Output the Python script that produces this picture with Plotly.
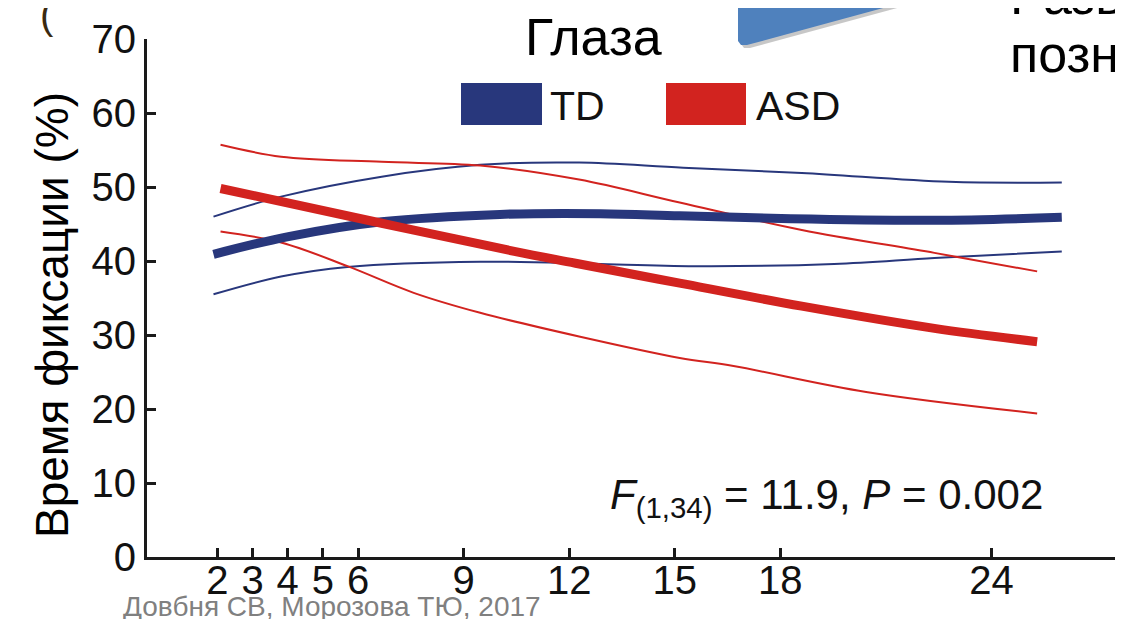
import plotly.graph_objects as go

# ---- data ----
xticks = [2, 3, 4, 5, 6, 9, 12, 15, 18, 24]
yticks = [0, 10, 20, 30, 40, 50, 60, 70]

td_mean_m = [1.89, 4.02, 6.67, 10.03, 12.89, 15.14, 18.30, 22.38, 26.0]
td_mean_v = [40.9, 43.3, 45.3, 46.3, 46.4, 46.1, 45.7, 45.5, 45.9]

td_up_m = [1.89, 3.81, 6.67, 9.47, 12.28, 15.24, 18.61, 22.79, 26.0]
td_up_v = [46.0, 48.7, 51.4, 53.0, 53.3, 52.6, 51.9, 50.7, 50.6]

td_lo_m = [1.89, 3.81, 5.70, 9.47, 12.89, 15.75, 19.53, 22.38, 26.0]
td_lo_v = [35.5, 37.9, 39.2, 39.9, 39.6, 39.3, 39.6, 40.4, 41.3]

asd_mean_m = [2.09, 6.67, 10.44, 12.18, 15.14, 18.61, 22.38, 25.3]
asd_mean_v = [49.8, 45.1, 41.3, 39.7, 37.0, 33.9, 30.9, 29.1]

asd_up_m = [2.09, 3.81, 6.67, 9.47, 12.28, 15.14, 18.61, 22.38, 25.3]
asd_up_v = [55.7, 54.1, 53.4, 52.9, 51.0, 47.9, 44.2, 41.1, 38.6]

asd_lo_m = [2.09, 3.81, 5.70, 7.58, 9.47, 12.28, 15.14, 16.67, 20.44, 25.3]
asd_lo_v = [44.0, 42.5, 39.3, 35.7, 33.0, 29.8, 26.9, 25.8, 22.3, 19.4]

NAVY = "#28377c"
RED = "#d2231f"
FONT = "Liberation Sans, Arial, sans-serif"

OFF = 8  # page body margin of the browser
W, H = 1123 - OFF, 619 - OFF
L, R, T, B = 139, 0, 31, 62
PW, PH = W - L - R, H - T - B


def px(xp):  # reference screen x -> paper
    return (xp - OFF - L) / PW


def py(yp):  # reference screen y -> paper
    return (H - B - (yp - OFF)) / PH


fig = go.Figure()


def add(m, v, color, width):
    fig.add_trace(go.Scatter(x=m, y=v, mode="lines",
                             line=dict(color=color, width=width, shape="spline", smoothing=1),
                             showlegend=False, hoverinfo="skip"))


add(td_up_m, td_up_v, NAVY, 2)
add(td_lo_m, td_lo_v, NAVY, 2)
add(asd_up_m, asd_up_v, RED, 2)
add(asd_lo_m, asd_lo_v, RED, 2)
add(td_mean_m, td_mean_v, NAVY, 9)
add(asd_mean_m, asd_mean_v, RED, 9)

# ---- shapes: legend swatches, blue arrow ----
shapes = []
for x0, x1, c in [(461, 542, NAVY), (666, 746, RED)]:
    shapes.append(dict(type="rect", xref="paper", yref="paper",
                       x0=px(x0), x1=px(x1), y0=py(125), y1=py(83),
                       fillcolor=c, line=dict(width=0), layer="above"))


def path(pts):
    return "M " + " L ".join(f"{px(a):.5f},{py(b):.5f}" for a, b in pts) + " Z"


arrow = [(738, 8), (738, 41), (741, 45), (747, 45), (931, -5), (786, -5)]
shadow = [(a + 3, b + 3) for a, b in arrow]
shapes.append(dict(type="path", xref="paper", yref="paper", path=path(shadow),
                   fillcolor="rgba(0,0,0,0.22)", line=dict(width=0), layer="above"))
shapes.append(dict(type="path", xref="paper", yref="paper", path=path(arrow),
                   fillcolor="#4f81bd", line=dict(width=0), layer="above"))

# ---- annotations ----
ann = []


def text(t, x, y, size, color="black", xa="left", angle=0):
    ann.append(dict(text=t, x=px(x), y=py(y), xref="paper", yref="paper",
                    xanchor=xa, yanchor="middle", textangle=angle, showarrow=False,
                    font=dict(family=FONT, size=size, color=color)))


text("Глаза", 593, 37, 52, xa="center")
text("TD", 548, 106, 41, "#111")
text("ASD", 754, 106, 41, "#111")
text("Время фиксации (%)", 52, 315, 46, xa="center", angle=-90)
text("<i>F</i><sub>(1,34)</sub> = 11.9, <i>P</i> = 0.002", 1045, 497, 42, "#111", xa="right")
text("Довбня СВ, Морозова ТЮ, 2017", 121, 606, 28, "#808080")
text("Развитие", 1008, -4, 52)
text("познавательных", 1008, 54, 52)
text("(", 47, 15, 40, "#3a2a10", xa="center")

fig.update_layout(
    width=W, height=H,
    margin=dict(l=L, r=R, t=T, b=B, pad=0),
    paper_bgcolor="white", plot_bgcolor="white",
    shapes=shapes, annotations=ann,
    xaxis=dict(range=[0, 27.74], tickvals=xticks, ticktext=[str(v) for v in xticks],
               showline=True, linewidth=3, linecolor="#1a1a1a",
               ticks="inside", ticklen=9, tickwidth=3, tickcolor="#1a1a1a",
               showgrid=False, zeroline=False, ticklabelstandoff=-14,
               tickfont=dict(family=FONT, size=40, color="#111")),
    yaxis=dict(range=[0, 70], tickvals=yticks,
               showline=True, linewidth=3, linecolor="#1a1a1a",
               ticks="inside", ticklen=9, tickwidth=3, tickcolor="#1a1a1a",
               showgrid=False, zeroline=False,
               tickfont=dict(family=FONT, size=40, color="#111")),
)

fig.write_html("out.html")
